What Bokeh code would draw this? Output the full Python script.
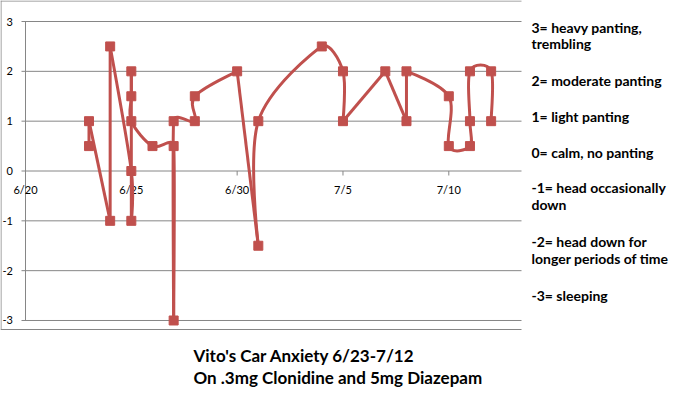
import numpy as np

from bokeh.core.properties import value
from bokeh.embed import file_html
from bokeh.models import Range1d
from bokeh.plotting import figure
from bokeh.resources import INLINE

# observations, in the order the line connects them
dates = ["2013-06-23", "2013-06-23", "2013-06-24", "2013-06-24",
         "2013-06-25", "2013-06-25", "2013-06-25", "2013-06-25", "2013-06-25",
         "2013-06-26", "2013-06-27", "2013-06-27", "2013-06-27",
         "2013-06-28", "2013-06-28", "2013-06-30", "2013-07-01", "2013-07-01",
         "2013-07-04", "2013-07-05", "2013-07-05", "2013-07-07",
         "2013-07-08", "2013-07-08", "2013-07-10", "2013-07-10",
         "2013-07-11", "2013-07-11", "2013-07-11", "2013-07-12", "2013-07-12"]
scores = [0.5, 1, -1, 2.5,
          0, -1, 2, 1.5, 1,
          0.5, 0.5, -3, 1,
          1, 1.5, 2, -1.5, 1,
          2.5, 2, 1, 2,
          1, 2, 1.5, 0.5,
          0.5, 1, 2, 2, 1]

tick_dates = ["2013-06-20", "2013-06-25", "2013-06-30", "2013-07-05", "2013-07-10"]
tick_labels = ["6/20", "6/25", "6/30", "7/5", "7/10"]
y_ticks = [-3, -2, -1, 0, 1, 2, 3]

scale_notes = [" 3= heavy panting,", "trembling", "2= moderate panting",
               "1= light panting", "0= calm, no panting", "-1= head occasionally",
               "down", "-2= head down for", "longer periods of time", "-3= sleeping"]
title_lines = ["Vito's Car Anxiety 6/23-7/12", "On .3mg Clonidine and 5mg Diazepam"]

RED = "#C0504D"
GRAY = "#868686"
DAY = 86400000.0
W, H = 672, 393
ORIGIN_PX, ZERO_PY = 25, 170.5     # screen position of 6/20 and of score 0
PX_DAY, PX_UNIT = 21.165, 49.83    # screen pixels per day / per score unit


def ms(d):
    return np.array(d, dtype="datetime64[ms]").astype("int64").astype(float)


x = ms(dates)
y = np.array(scores, dtype=float)
x0 = float(ms("2013-06-20"))
tx = ms(tick_dates)


def X(px):
    return (x0 + (np.asarray(px, dtype=float) - ORIGIN_PX) / PX_DAY * DAY).tolist()


def Y(py):
    return ((ZERO_PY - np.asarray(py, dtype=float)) / PX_UNIT).tolist()


def smooth(x, y):
    # Excel-like smoothed scatter: bezier control points from neighbours,
    # handle length limited by segment lengths and flattened at sharp turns
    px = (x - x[0]) / DAY * PX_DAY
    py = y * PX_UNIT
    n = len(x)
    dx = np.zeros(n)
    dy = np.zeros(n)
    for i in range(n):
        a, b = max(i - 1, 0), min(i + 1, n - 1)
        d02 = np.hypot(px[b] - px[a], py[b] - py[a])
        if d02 == 0:
            continue
        d01 = np.hypot(px[i] - px[a], py[i] - py[a])
        d12 = np.hypot(px[b] - px[i], py[b] - py[i])
        f = min([1 / 6] + [d / (2 * d02) for d in (d01, d12) if d > 0])
        if d01 > 0 and d12 > 0:
            c = ((px[a] - px[i]) * (px[b] - px[i]) + (py[a] - py[i]) * (py[b] - py[i])) / (d01 * d12)
            f *= np.clip((0.35 - c) / 0.35, 0, 1)
        dx[i] = f * (x[b] - x[a])
        dy[i] = f * (y[b] - y[a])
    return x[:-1] + dx[:-1], y[:-1] + dy[:-1], x[1:] - dx[1:], y[1:] - dy[1:]


p = figure(width=W, height=H, x_axis_type="datetime",
           x_range=Range1d(X(0), X(W)), y_range=Range1d(Y(H), Y(0)),
           min_border=0, output_backend="svg", toolbar_location=None)
p.outline_line_color = None
p.axis.visible = False
p.grid.visible = False

# chart box edges
p.segment(x0=X([0, 0.5, 0]), y0=Y([0.5, 0, 329]), x1=X([521, 0.5, 521]), y1=Y([0.5, 329, 329]),
          line_color=GRAY)
# horizontal gridlines (with their tick marks), vertical axis, date ticks on zero
p.segment(x0=[X(21)] * len(y_ticks), y0=y_ticks, x1=[X(521)] * len(y_ticks), y1=y_ticks,
          line_color=GRAY)
p.segment(x0=[x0], y0=[y_ticks[0]], x1=[x0], y1=[y_ticks[-1]], line_color=GRAY)
p.segment(x0=tx, y0=[0] * len(tx), x1=tx, y1=[Y(ZERO_PY + 4.5)] * len(tx), line_color=GRAY)

p.text(x=[X(12.5)] * len(y_ticks), y=y_ticks, text=[str(v) for v in y_ticks],
       text_align="right", text_baseline="middle", text_font=value("Lato"),
       text_font_size=value("11px"), text_color="black")
p.text(x=tx, y=[Y(189)] * len(tx), text=tick_labels, text_align="center",
       text_baseline="middle", text_font=value("Lato"), text_font_size=value("11px"),
       text_color="black")

cx0, cy0, cx1, cy1 = smooth(x, y)
p.bezier(x0=x[:-1], y0=y[:-1], x1=x[1:], y1=y[1:],
         cx0=cx0, cy0=cy0, cx1=cx1, cy1=cy1, line_color=RED, line_width=3)
p.scatter(x, y, marker="square", size=9, fill_color=RED, line_color=RED)

note_py = [27, 43, 80, 116, 152, 187, 204, 241, 258, 295]
p.text(x=[X(531)] * len(scale_notes), y=Y(note_py), text=scale_notes,
       text_baseline="middle", text_font=value("Lato"), text_font_style="bold",
       text_font_size=value("14px"), text_color="black")
p.text(x=[X(193)] * len(title_lines), y=Y([355, 377]), text=title_lines,
       text_baseline="middle", text_font=value("Lato"), text_font_style="bold",
       text_font_size=value("17px"), text_color="black")

open("out.html", "w").write(file_html(p, INLINE))
